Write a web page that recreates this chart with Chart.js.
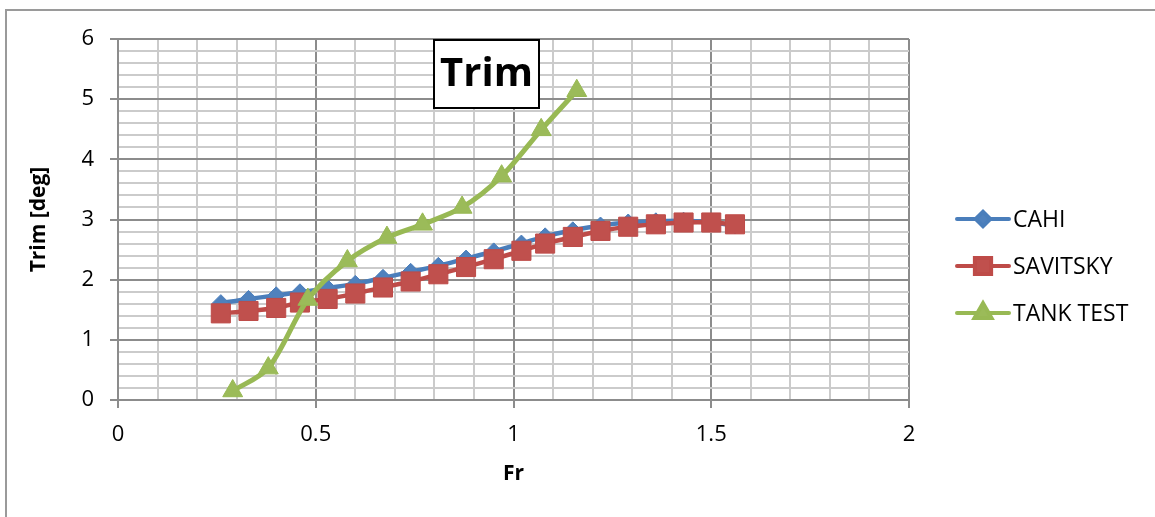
<!DOCTYPE html>
<html>
<head>
<meta charset="utf-8">
<script src="https://cdn.jsdelivr.net/npm/chart.js@4/dist/chart.umd.min.js"></script>
<style>
  body { margin: 0; background: #fff; }
  #moldura { position: absolute; left: 5px; top: 9px; width: 1200px; height: 600px;
             border-left: 2px solid #9a9a9a; border-top: 2px solid #9a9a9a; }
  #cvsTrim { position: absolute; left: 0; top: 0; }
</style>
</head>
<body>
<div id="moldura"></div>
<canvas id="cvsTrim" width="1155" height="517"></canvas>
<script>
//dados
const frCalc = [0.26, 0.33, 0.40, 0.46, 0.53, 0.60, 0.67, 0.74, 0.81, 0.88,
                0.95, 1.02, 1.08, 1.15, 1.22, 1.29, 1.36, 1.43, 1.50, 1.56];
const cahi = [1.61, 1.68, 1.74, 1.79, 1.86, 1.93, 2.03, 2.13, 2.23, 2.35,
              2.47, 2.60, 2.72, 2.82, 2.90, 2.95, 2.97, 2.98, 2.95, 2.90];
const savitsky = [1.44, 1.48, 1.53, 1.62, 1.68, 1.77, 1.87, 1.97, 2.09, 2.21,
                  2.34, 2.48, 2.60, 2.71, 2.81, 2.88, 2.92, 2.95, 2.95, 2.92];
const frTanque = [0.29, 0.38, 0.48, 0.58, 0.68, 0.77, 0.87, 0.97, 1.07, 1.16];
const tankTest = [0.15, 0.53, 1.67, 2.31, 2.70, 2.92, 3.20, 3.72, 4.49, 5.14];

const nomesSeries = ["CAHI", "SAVITSKY", "TANK TEST"];
const tituloGrafico = "Trim";
const tituloX = "Fr";
const tituloY = "Trim [deg]";

//puxando o canvas
const ctxTrim = document.getElementById("cvsTrim");

const fonte = "'Open Sans', sans-serif";
const corMaior = "#8c8c8c";
const corMenor = "#cbcbcb";

function pontos(xs, ys) {
  return xs.map((x, i) => ({ x: x, y: ys[i] }));
}

function ehMultiplo(v, passo) {
  let r = v / passo;
  return Math.abs(r - Math.round(r)) < 1e-6;
}

//caixa do titulo dentro da area do grafico
const caixaTitulo = {
  id: "caixaTitulo",
  beforeDatasetsDraw(chart) {
    const ctx = chart.ctx;
    ctx.save();
    ctx.fillStyle = "#fff";
    ctx.strokeStyle = "#000";
    ctx.lineWidth = 2;
    ctx.fillRect(434, 40, 105, 68);
    ctx.strokeRect(434, 40, 105, 68);
    ctx.fillStyle = "#000";
    ctx.font = "bold 40px " + fonte;
    ctx.textAlign = "center";
    ctx.textBaseline = "middle";
    ctx.fillText(tituloGrafico, 486.5, 75);
    ctx.restore();
  }
};

//legenda no estilo do excel (linha + marcador)
const legenda = {
  id: "legenda",
  afterDraw(chart) {
    const ctx = chart.ctx;
    chart.data.datasets.forEach((ds, i) => {
      const y = 219 + i * 47;
      ctx.save();
      ctx.strokeStyle = ds.borderColor;
      ctx.lineWidth = 4;
      ctx.lineCap = "round";
      ctx.beginPath();
      ctx.moveTo(957, y);
      ctx.lineTo(1009, y);
      ctx.stroke();
      ctx.fillStyle = ds.pointBackgroundColor;
      ctx.strokeStyle = ds.pointBorderColor;
      Chart.helpers.drawPoint(ctx, {
        pointStyle: ds.pointStyle,
        radius: ds.pointRadius * 0.85,
        borderWidth: 1,
        rotation: 0
      }, 983, y);
      ctx.fillStyle = "#000";
      ctx.font = "23px " + fonte;
      ctx.textAlign = "left";
      ctx.textBaseline = "middle";
      ctx.fillText(ds.label, 1013, y + 1);
      ctx.restore();
    });
  }
};

function criaGraficoTrim() {
  new Chart(ctxTrim, {
    type: "line",
    data: {
      datasets: [
        {
          label: nomesSeries[0],
          data: pontos(frCalc, cahi),
          borderColor: "#4a7ebb",
          borderWidth: 4.5,
          pointStyle: "rectRot",
          pointRadius: 8.5,
          pointBackgroundColor: "#4f81bd",
          pointBorderColor: "#4a7ebb",
          pointBorderWidth: 1,
          tension: 0.3,
          order: 3
        },
        {
          label: nomesSeries[1],
          data: pontos(frCalc, savitsky),
          borderColor: "#be4b48",
          borderWidth: 4.5,
          pointStyle: "rect",
          pointRadius: 13.5,
          pointBackgroundColor: "#c0504d",
          pointBorderColor: "#be4b48",
          pointBorderWidth: 1,
          tension: 0.3,
          order: 2
        },
        {
          label: nomesSeries[2],
          data: pontos(frTanque, tankTest),
          borderColor: "#98b954",
          borderWidth: 5,
          pointStyle: "triangle",
          pointRadius: 11.5,
          pointBackgroundColor: "#9bbb59",
          pointBorderColor: "#98b954",
          pointBorderWidth: 1,
          tension: 0.3,
          order: 1
        }
      ]
    },
    options: {
      responsive: false,
      animation: false,
      clip: false,
      layout: { padding: { left: 0, right: 246, top: 39, bottom: 0 } },
      plugins: {
        legend: { display: false },
        tooltip: { enabled: false }
      },
      scales: {
        x: {
          type: "linear",
          min: 0,
          max: 2,
          afterFit: (s) => { s.height = 117; },
          border: { display: true, color: corMaior, width: 2 },
          grid: {
            lineWidth: 2,
            color: (c) => ehMultiplo(c.tick.value, 0.5) ? corMaior : corMenor,
            tickColor: (c) => ehMultiplo(c.tick.value, 0.5) ? corMaior : "rgba(0,0,0,0)",
            tickLength: 8
          },
          ticks: {
            stepSize: 0.1,
            autoSkip: false,
            maxRotation: 0,
            padding: 14,
            color: "#000",
            font: { family: fonte, size: 22 },
            callback: (v) => ehMultiplo(v, 0.5) ? String(Math.round(v * 10) / 10) : ""
          },
          title: {
            display: true,
            text: tituloX,
            color: "#000",
            font: { family: fonte, size: 21, weight: "bold" },
            padding: { top: 0, bottom: 30 }
          }
        },
        y: {
          type: "linear",
          min: 0,
          max: 6,
          afterFit: (s) => { s.width = 118; },
          border: { display: true, color: corMaior, width: 2 },
          grid: {
            lineWidth: 2,
            color: (c) => ehMultiplo(c.tick.value, 1) ? corMaior : corMenor,
            tickColor: (c) => ehMultiplo(c.tick.value, 1) ? corMaior : "rgba(0,0,0,0)",
            tickLength: 8
          },
          ticks: {
            stepSize: 0.2,
            autoSkip: false,
            padding: 16,
            color: "#000",
            font: { family: fonte, size: 22 },
            callback: (v) => ehMultiplo(v, 1) ? String(Math.round(v)) : ""
          },
          title: {
            display: true,
            text: tituloY,
            color: "#000",
            font: { family: fonte, size: 21, weight: "bold" },
            padding: { top: 26, bottom: 0 }
          }
        }
      }
    },
    plugins: [caixaTitulo, legenda]
  });
}

criaGraficoTrim();
</script>
</body>
</html>
